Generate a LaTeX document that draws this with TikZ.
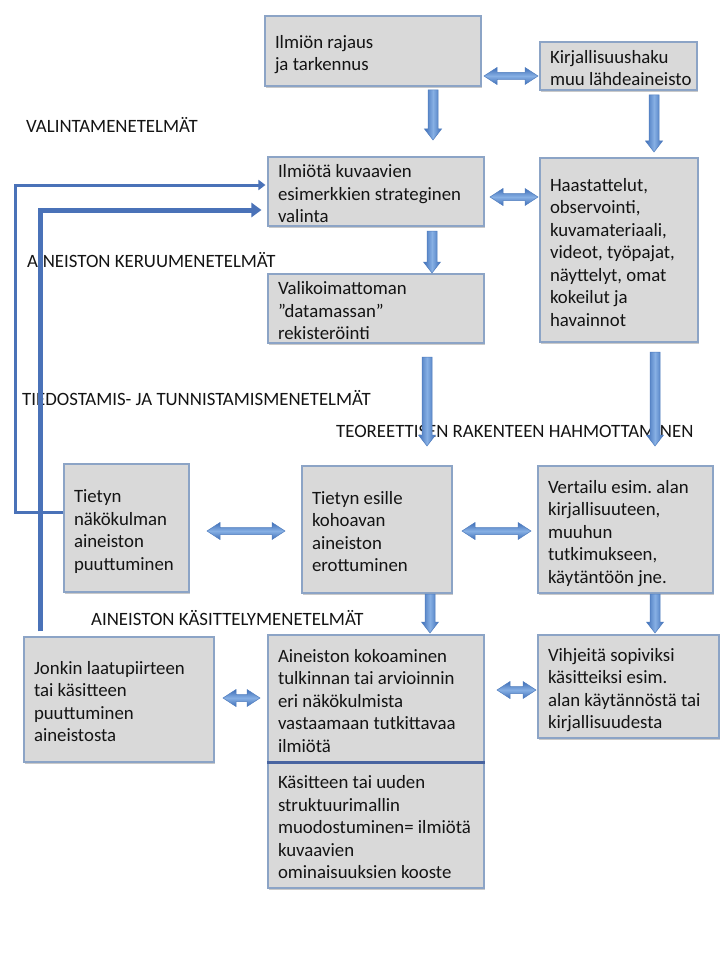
\documentclass[tikz,border=0pt]{standalone}
\usepackage{fontspec}
\setmainfont{Carlito}
\frenchspacing
\usetikzlibrary{arrows.meta,shadows}
\definecolor{boxgray}{RGB}{217,217,217}
\definecolor{boxedge}{RGB}{140,164,198}
\definecolor{arrdark}{RGB}{62,110,184}
\definecolor{arrlight}{RGB}{135,176,228}
\definecolor{arredge}{RGB}{80,125,190}
\definecolor{fbline}{RGB}{74,114,184}
\definecolor{sepline}{RGB}{72,100,160}
\definecolor{txt}{RGB}{20,20,20}
\newcommand{\bx}[2]{\makebox[#1][l]{\lower8.5pt\hbox{\begin{tabular}{@{}l@{}}#2\end{tabular}}}}
\newcommand{\dnblk}[3]{%
  \shade[left color=arrdark, right color=arrdark, middle color=arrlight, draw=arredge, line width=0.5pt]
  ({#1-5},#2) -- ({#1+5},#2) -- ({#1+5},{#3-11}) -- ({#1+8.5},{#3-11}) -- (#1,#3)
  -- ({#1-8.5},{#3-11}) -- ({#1-5},{#3-11}) -- cycle;}
\newcommand{\hdblk}[3]{%
  \shade[top color=arrdark, bottom color=arrdark, middle color=arrlight, draw=arredge, line width=0.5pt]
  (#1,#3) -- ({#1+13},{#3-8.5}) -- ({#1+13},{#3-3.5}) -- ({#2-13},{#3-3.5}) -- ({#2-13},{#3-8.5})
  -- (#2,#3) -- ({#2-13},{#3+8.5}) -- ({#2-13},{#3+3.5}) -- ({#1+13},{#3+3.5}) -- ({#1+13},{#3+8.5}) -- cycle;}
\begin{document}
\begin{tikzpicture}[x=1pt,y=-1pt,
  box/.style={draw=boxedge, fill=boxgray, line width=1.1pt, inner xsep=10pt, inner ysep=0pt,
    text height=0pt, text depth=0pt, text=txt, font=\fontsize{18.8}{22.5}\selectfont,
    drop shadow={shadow xshift=1.2pt, shadow yshift=-1.8pt, opacity=0.35, fill=black!60}},
  lbl/.style={anchor=base west, inner sep=0pt, text=txt, font=\fontsize{18.8}{22.5}\selectfont},
  fbthin/.style={draw=fbline, line width=3pt, -{Triangle[width=10pt,length=7pt]}},
  fbthick/.style={draw=fbline, line width=5pt, -{Triangle[width=14pt,length=10pt]}}]
\useasboundingbox (0,0) rectangle (720,960);
\fill[white] (0,0) rectangle (720,960);

% boxes
\node[box, minimum width=216pt, minimum height=70pt] (b1) at (373,51) {\bx{196pt}{Ilmiön rajaus\\ja tarkennus}};
\node[box, minimum width=157pt, minimum height=48pt] (b2) at (618.5,66) {\bx{137pt}{Kirjallisuushaku\\muu lähdeaineisto}};
\node[box, minimum width=216pt, minimum height=69pt] (b3) at (376,191.5) {\bx{196pt}{Ilmiötä kuvaavien\\esimerkkien strateginen\\valinta}};
\node[box, minimum width=158pt, minimum height=184pt] (b4) at (619,250) {\bx{138pt}{Haastattelut,\\observointi,\\kuvamateriaali,\\videot, työpajat,\\näyttelyt, omat\\kokeilut ja\\havainnot}};
\node[box, minimum width=216pt, minimum height=69pt] (b5) at (376,308.5) {\bx{196pt}{Valikoimattoman\\”datamassan”\\rekisteröinti}};
\node[box, minimum width=125pt, minimum height=128pt] (b6) at (126.5,528) {\bx{105pt}{Tietyn\\näkökulman\\aineiston\\puuttuminen}};
\node[box, minimum width=150pt, minimum height=127pt] (b7) at (377,529.5) {\bx{130pt}{Tietyn esille\\kohoavan\\aineiston\\erottuminen}};
\node[box, minimum width=175pt, minimum height=127pt] (b8) at (625.5,529.5) {\bx{155pt}{Vertailu esim. alan\\kirjallisuuteen,\\muuhun\\tutkimukseen,\\käytäntöön jne.}};
\node[box, minimum width=190pt, minimum height=125pt] (b9) at (119,699.5) {\bx{170pt}{Jonkin laatupiirteen\\tai käsitteen\\puuttuminen\\aineistosta}};
\node[box, minimum width=216pt, minimum height=126pt] (b11) at (376,825) {\bx{196pt}{Käsitteen tai uuden\\struktuurimallin\\muodostuminen= ilmiötä\\kuvaavien\\ominaisuuksien kooste}};
\node[box, minimum width=216pt, minimum height=127pt] (b10) at (376,698.5) {\bx{196pt}{Aineiston kokoaminen\\tulkinnan tai arvioinnin\\eri näkökulmista\\vastaamaan tutkittavaa\\ilmiötä}};
\node[box, minimum width=181pt, minimum height=103pt] (b12) at (628.5,686.5) {\bx{161pt}{Vihjeitä sopiviksi\\käsitteiksi esim.\\alan käytännöstä tai\\kirjallisuudesta}};
\draw[sepline, line width=2.5pt] (b10.south west) -- (b10.south east);

% labels
\node[lbl] (l1) at (26,132.5) {VALINTAMENETELMÄT};
\node[lbl] (l2) at (27,267.5) {AINEISTON KERUUMENETELMÄT};
\node[lbl] (l3) at (22,405) {TIEDOSTAMIS- JA TUNNISTAMISMENETELMÄT};
\node[lbl] (l4) at (336,437.5) {TEOREETTISEN RAKENTEEN HAHMOTTAMINEN};
\node[lbl] (l5) at (91,625.5) {AINEISTON KÄSITTELYMENETELMÄT};

% block arrows
\dnblk{433}{90}{140}
\dnblk{654}{95}{152}
\dnblk{432}{231}{273}
\dnblk{427}{357}{446}
\dnblk{655}{352}{446}
\dnblk{430}{594}{633}
\dnblk{655}{594}{633}
\hdblk{484}{538}{76}
\hdblk{490}{538}{197}
\hdblk{207}{285}{531}
\hdblk{462}{531}{531}
\hdblk{223}{260}{698}
\hdblk{497}{536}{690}

% feedback lines
\draw[fbthin, shorten >=2pt] ([yshift=16pt]b6.west) -- ++(-48,0) |- ([yshift=6.5pt]b3.west);
\draw[fbthick, shorten >=6pt] ([xshift=-79pt,yshift=5pt]b9.north) |- ([yshift=-18.5pt]b3.west);
\end{tikzpicture}
\end{document}
